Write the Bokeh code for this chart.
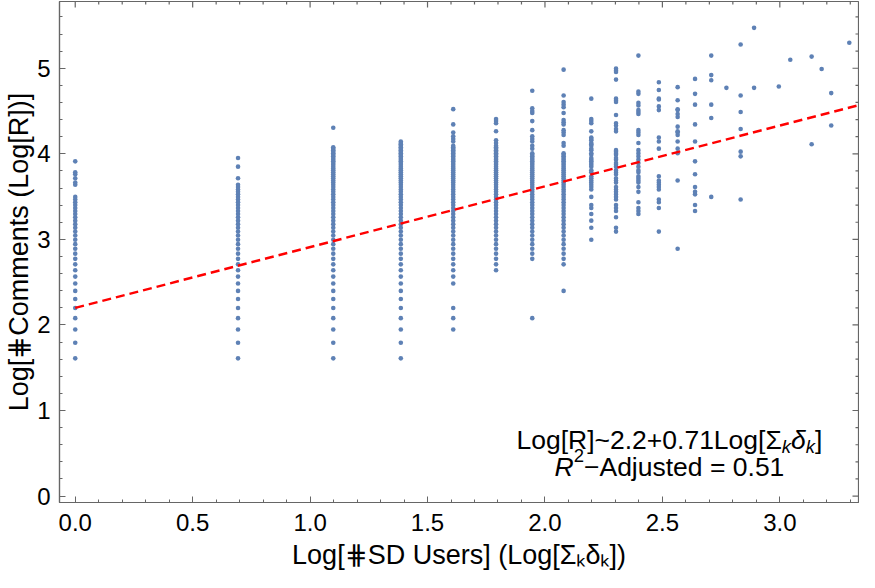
import numpy as np
from bokeh.plotting import figure
from bokeh.models import Range1d, SingleIntervalTicker, PrintfTickFormatter, Label
from bokeh.embed import file_html
from bokeh.resources import INLINE

# ---- data: number of comments per post, grouped by number of SD users ----
c01 = [5, 6, 7, 8, 9, 10, 11, 12, 13, 14, 15, 16, 17, 18, 19, 20, 21, 22, 23, 24, 25, 26, 27, 28, 29,
       30, 31, 32, 33, 38, 39, 41, 43, 44, 50]
c02 = [5, 6, 7, 8, 9, 10, 11, 12, 13, 14, 15, 16, 17, 18, 19, 20, 21, 22, 23, 24, 25, 26, 27, 28, 29,
       30, 31, 32, 33, 34, 35, 36, 37, 38, 41, 47, 52]
c03 = [5, 6, 7, 8, 9, 10, 11, 12, 13, 14, 15, 16, 17, 18, 19, 20, 21, 22, 23, 24, 25, 26, 27, 28, 29,
       30, 31, 32, 33, 34, 35, 36, 37, 38, 39, 40, 41, 42, 43, 44, 45, 46, 47, 48, 49, 50, 51, 52, 53,
       54, 55, 56, 57, 58, 59, 74]
c04 = [5, 6, 7, 8, 9, 10, 11, 12, 13, 14, 15, 16, 17, 18, 19, 20, 21, 22, 23, 24, 25, 26, 27, 28, 29,
       30, 31, 32, 33, 34, 35, 36, 37, 38, 39, 40, 41, 42, 43, 44, 45, 46, 47, 48, 49, 50, 51, 52, 53,
       54, 55, 56, 57, 58, 59, 60, 61, 62, 63]
c05 = [7, 8, 9, 12, 13, 14, 15, 16, 17, 18, 19, 20, 21, 22, 23, 24, 25, 26, 27, 28, 29, 30, 31, 32, 33,
       34, 35, 36, 37, 38, 39, 40, 41, 42, 43, 44, 45, 46, 47, 48, 49, 50, 51, 52, 53, 54, 55, 56, 57,
       58, 59, 60, 63, 65, 67, 70, 77, 92]
c06 = [14, 15, 16, 17, 18, 19, 20, 21, 22, 23, 24, 25, 26, 27, 28, 29, 30, 31, 32, 33, 34, 35, 36, 37,
       38, 39, 40, 41, 42, 43, 44, 45, 46, 47, 48, 49, 50, 51, 52, 53, 54, 55, 56, 57, 58, 59, 60, 62,
       64, 71, 78, 80, 82]
c07 = [8, 16, 17, 18, 19, 20, 21, 22, 23, 24, 25, 26, 27, 28, 29, 30, 31, 32, 33, 34, 35, 36, 37, 38,
       39, 40, 41, 42, 43, 44, 45, 46, 47, 48, 49, 50, 51, 52, 53, 54, 55, 58, 60, 63, 65, 67, 72, 80,
       88, 90, 93, 114]
c08 = [11, 15, 16, 17, 18, 19, 20, 21, 22, 23, 24, 25, 26, 27, 28, 29, 30, 31, 32, 33, 34, 35, 36, 37,
       38, 39, 40, 41, 42, 43, 44, 45, 46, 47, 48, 49, 50, 51, 52, 53, 54, 55, 60, 62, 68, 70, 72, 77,
       79, 81, 88, 94, 97, 100, 108, 146]
c09 = [20, 23, 25, 27, 29, 30, 33, 36, 37, 38, 39, 40, 41, 42, 44, 45, 47, 48, 49, 50, 51, 52, 54, 55,
       57, 58, 60, 61, 62, 64, 65, 66, 71, 78, 80, 82, 104]
c10 = [22, 23, 26, 28, 29, 30, 32, 33, 34, 35, 36, 37, 39, 40, 41, 43, 44, 45, 47, 48, 49, 51, 52, 54,
       55, 56, 57, 71, 73, 76, 78, 86, 100, 102, 104, 130, 142, 145, 148]
c11 = [27, 28, 29, 31, 35, 37, 39, 40, 41, 42, 44, 45, 47, 49, 51, 53, 55, 57, 62, 68, 70, 72, 87, 89,
       91, 96, 99, 110, 113, 172]
c12 = [22, 29, 31, 32, 36, 37, 38, 39, 40, 42, 58, 63, 66, 91, 95, 103, 104, 115, 126]
c13 = [18, 40, 55, 58, 63, 68, 70, 71, 75, 84, 87, 91, 92, 102, 119]
c14 = [28, 30, 34, 35, 37, 43, 50, 63, 77, 97, 110, 131]
c15 = [33, 83, 97, 129, 137, 172]
c16 = [118]
c17 = [32, 53, 56, 73, 89, 108, 196]
c18 = [118, 238]
c20 = [120]
c21 = [164]
c23 = [61, 170]
c24 = [147]
c25 = [76, 111]
c27 = [200]

sd_users = [1, 2, 3, 4, 5, 6, 7, 8, 9, 10, 11, 12, 13, 14, 15, 16, 17, 18, 20, 21, 23, 24, 25, 27]
comment_groups = [c01, c02, c03, c04, c05, c06, c07, c08, c09, c10, c11, c12, c13, c14, c15, c16,
                  c17, c18, c20, c21, c23, c24, c25, c27]

# linear fit reported on the chart
fit_intercept = 2.2
fit_slope = 0.71

x_label = "Log[\u22d5SD Users] (Log[\u03a3\u2096\u03b4\u2096])"
y_label = "Log[\u22d5Comments (Log[R])]"
fit_text = "Log[R]~2.2+0.71Log[\u03a3"
r2_text = "\u2212Adjusted = 0.51"

xs, ys = [], []
for n, group in zip(sd_users, comment_groups):
    for c in group:
        xs.append(float(np.log(n)))
        ys.append(float(np.log(c)))

X0, X1 = -0.067, 3.335
Y0, Y1 = -0.075, 5.78

FONT = "Liberation Sans"
FRAME = "#666666"

p = figure(width=859, height=572, output_backend="svg", toolbar_location=None,
           x_range=Range1d(X0, X1), y_range=Range1d(Y0, Y1),
           min_border_left=59, min_border_right=1, min_border_top=1, min_border_bottom=60)
p.grid.visible = False
p.outline_line_color = FRAME
p.outline_line_width = 1.2
p.background_fill_color = "white"
p.border_fill_color = "white"


def style(ax, label):
    ax.axis_line_color = FRAME
    ax.axis_line_width = 1.2
    ax.major_tick_line_color = FRAME
    ax.minor_tick_line_color = FRAME
    ax.major_tick_in = 6
    ax.major_tick_out = 0
    ax.minor_tick_in = 3
    ax.minor_tick_out = 0
    ax.major_label_text_font = FONT
    ax.major_label_text_font_size = "24px"
    ax.major_label_text_color = "black"
    ax.axis_label = label
    ax.axis_label_text_font = FONT
    ax.axis_label_text_font_size = "27px"
    ax.axis_label_text_font_style = "normal"
    ax.axis_label_text_color = "black"
    ax.axis_label_text_line_height = 1.0
    ax.major_label_text_line_height = 1.0


xaxis = p.xaxis[0]
xaxis.ticker = SingleIntervalTicker(interval=0.5, num_minor_ticks=5)
xaxis.formatter = PrintfTickFormatter(format="%.1f")
xaxis.major_label_standoff = 11
xaxis.axis_label_standoff = 6
style(xaxis, x_label)

yaxis = p.yaxis[0]
yaxis.ticker = SingleIntervalTicker(interval=1, num_minor_ticks=5)
yaxis.formatter = PrintfTickFormatter(format="%d")
yaxis.major_label_standoff = 9
yaxis.axis_label_standoff = 0
style(yaxis, y_label)

# mirrored inward ticks on the top and right frame edges (clipped to the frame)
top_major = [v for v in np.arange(0, 3.5, 0.5) if X0 < v < X1]
top_minor = [v for v in np.arange(0, 3.4, 0.1) if X0 < v < X1 and abs(v / 0.5 - round(v / 0.5)) > 1e-6]
right_major = [v for v in np.arange(0, 6, 1.0) if Y0 < v < Y1]
right_minor = [v for v in np.arange(0, 5.8, 0.2) if Y0 < v < Y1 and abs(v - round(v)) > 1e-6]
p.scatter(top_major, [Y1] * len(top_major), marker="dash", angle=np.pi / 2, size=12,
          line_color=FRAME, line_width=1.2)
p.scatter(top_minor, [Y1] * len(top_minor), marker="dash", angle=np.pi / 2, size=6,
          line_color=FRAME, line_width=1.2)
p.scatter([X1] * len(right_major), right_major, marker="dash", size=12,
          line_color=FRAME, line_width=1.2)
p.scatter([X1] * len(right_minor), right_minor, marker="dash", size=6,
          line_color=FRAME, line_width=1.2)

p.scatter(xs, ys, size=4.6, marker="circle", fill_color="#5E81B5", line_color=None)

fx = [0.0, 3.5]
fy = [fit_intercept + fit_slope * v for v in fx]
p.line(fx, fy, line_color="#ff0000", line_width=2.4, line_dash="9 5")

# ---- rich annotation text built from styled pieces ----
W = {'L': .556, 'o': .556, 'g': .556, '[': .278, ']': .278, 'R': .722, '~': .584, '2': .556,
     '.': .278, '+': .584, '0': .556, '7': .556, '1': .556, '\u03a3': .618, '\u03b4': .556,
     'k': .5, '\u2212': .584, 'A': .667, 'd': .556, 'j': .222, 'u': .556, 's': .5, 't': .278,
     'e': .556, ' ': .278, '=': .584, '5': .556}


def tw(s, size):
    return sum(W.get(ch, .556) for ch in s) * size


def rich(pieces, x, y, size):
    total = sum(tw(t, size * sc) for t, it, sc, sh in pieces)
    off = -total / 2
    for t, it, sc, sh in pieces:
        fs = size * sc
        p.add_layout(Label(x=x, y=y, x_offset=off, y_offset=sh * size, text=t,
                           text_font=FONT, text_font_size=f"{fs:.1f}px",
                           text_font_style="italic" if it else "normal",
                           text_color="black", text_align="left",
                           text_baseline="alphabetic"))
        off += tw(t, fs)


ANN = 26.5
rich([(fit_text, False, 1, 0), ("k", True, 0.7, -0.25),
      ("\u03b4", True, 1, 0), ("k", True, 0.7, -0.25), ("]", False, 1, 0)],
     2.53, 0.66, ANN)
rich([("R", True, 1, 0), ("2", False, 0.7, 0.42), (r2_text, False, 1, 0)],
     2.53, 0.34, ANN)

open("out.html", "w").write(file_html(p, INLINE))
